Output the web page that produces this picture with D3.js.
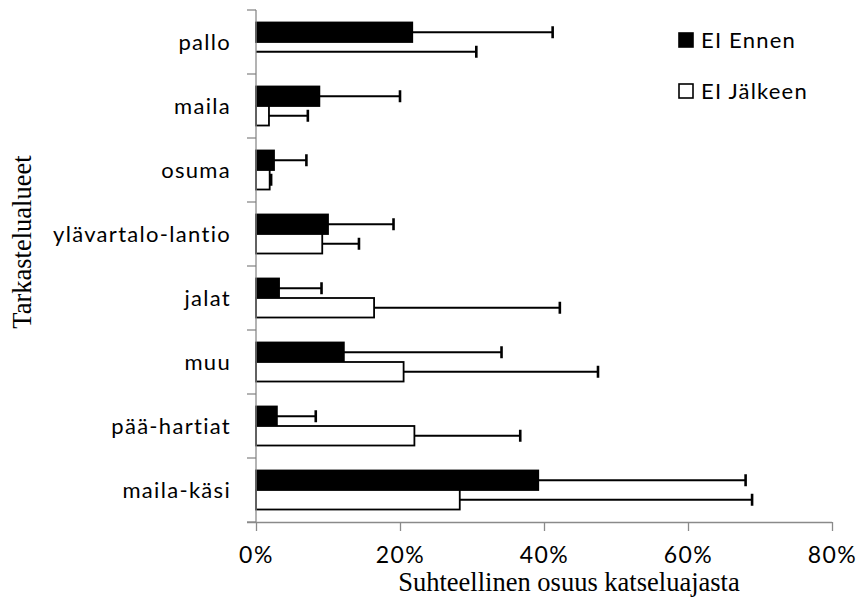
<!DOCTYPE html>
<html>
<head>
<meta charset="utf-8">
<script src="https://cdn.jsdelivr.net/npm/d3@7"></script>
<style>
  html, body { margin: 0; padding: 0; background: #fff; }
  svg { display: block; }
</style>
</head>
<body>
<svg id="chart" width="857" height="610"></svg>
<script>
// Viewing areas (top to bottom)
const categories = ["pallo", "maila", "osuma", "ylävartalo-lantio", "jalat", "muu", "pää-hartiat", "maila-käsi"];
// Share of viewing time (%), before and after, with error bar lengths (%)
const eiEnnen      = [21.7, 8.8, 2.5, 10.0, 3.2, 12.2, 2.9, 39.2];
const eiEnnenErr   = [19.5, 11.2, 4.5, 9.1, 5.9, 21.9, 5.4, 28.8];
const eiJalkeen    = [0.0, 1.8, 1.9, 9.2, 16.4, 20.5, 22.0, 28.3];
const eiJalkeenErr = [30.6, 5.4, 0.2, 5.1, 25.8, 27.0, 14.7, 40.6];
const seriesNames  = ["EI Ennen", "EI Jälkeen"];
const xTicks       = [0, 20, 40, 60, 80];

const svg = d3.select("#chart");
const sansFont = "Lato, 'Open Sans', sans-serif";
const serifFont = "'Liberation Serif', 'Times New Roman', serif";
const axisColor = "#8a8a8a";

const x = d3.scaleLinear().domain([0, 80]).range([256, 832]);
const y = d3.scaleBand().domain(categories).range([10, 522]).padding(0);
const sub = d3.scaleBand().domain(["before", "after"]).range([0, y.bandwidth()])
  .paddingInner(0).paddingOuter(0.64);

const rows = categories.map((c, i) => ({
  cat: c,
  bars: [
    { key: "before", v: eiEnnen[i], e: eiEnnenErr[i], fill: "#000" },
    { key: "after", v: eiJalkeen[i], e: eiJalkeenErr[i], fill: "#fff" }
  ]
}));

// Bars
const g = svg.append("g");
const groups = g.selectAll("g.row").data(rows).join("g")
  .attr("class", "row")
  .attr("transform", d => `translate(0,${y(d.cat)})`);

groups.selectAll("rect").data(d => d.bars.filter(b => b.v > 0)).join("rect")
  .attr("x", x(0))
  .attr("y", b => sub(b.key))
  .attr("width", b => x(b.v) - x(0))
  .attr("height", sub.bandwidth())
  .attr("fill", b => b.fill)
  .attr("stroke", "#000")
  .attr("stroke-width", 1.8);

// Error bars (plus direction)
const errs = groups.selectAll("g.err").data(d => d.bars).join("g").attr("class", "err");
errs.append("line")
  .attr("x1", b => x(b.v)).attr("x2", b => x(b.v + b.e))
  .attr("y1", b => sub(b.key) + sub.bandwidth() / 2)
  .attr("y2", b => sub(b.key) + sub.bandwidth() / 2)
  .attr("stroke", "#000").attr("stroke-width", 2);
errs.append("line")
  .attr("x1", b => x(b.v + b.e)).attr("x2", b => x(b.v + b.e))
  .attr("y1", b => sub(b.key) + sub.bandwidth() / 2 - 6)
  .attr("y2", b => sub(b.key) + sub.bandwidth() / 2 + 6)
  .attr("stroke", "#000").attr("stroke-width", 2.6);

// Vertical axis with ticks between categories
const yAxis = svg.append("g");
yAxis.append("line")
  .attr("x1", x(0)).attr("x2", x(0))
  .attr("y1", y.range()[0]).attr("y2", y.range()[1])
  .attr("stroke", axisColor).attr("stroke-width", 1.3);
const boundaries = categories.map(c => y(c)).concat([y.range()[1]]);
yAxis.selectAll("line.tick").data(boundaries).join("line")
  .attr("class", "tick")
  .attr("x1", x(0) - 9).attr("x2", x(0))
  .attr("y1", d => d).attr("y2", d => d)
  .attr("stroke", axisColor).attr("stroke-width", 1.3);

yAxis.selectAll("text").data(categories).join("text")
  .attr("x", 231)
  .attr("y", c => y(c) + y.bandwidth() / 2)
  .attr("dy", "0.35em")
  .attr("text-anchor", "end")
  .attr("font-family", sansFont)
  .attr("font-size", 22)
  .attr("letter-spacing", 1.3)
  .attr("fill", "#000")
  .text(c => c);

// Horizontal axis
const xAxis = d3.axisBottom(x).tickValues(xTicks).tickFormat(d => d + "%")
  .tickSize(9).tickSizeOuter(0).tickPadding(16);
const xg = svg.append("g").attr("transform", `translate(0,${y.range()[1]})`).call(xAxis);
xg.select(".domain").attr("stroke", axisColor).attr("stroke-width", 1.3)
  .attr("d", `M${x(0) - 9},0.5H${x(80)}`);
xg.selectAll(".tick line").attr("stroke", axisColor).attr("stroke-width", 1.3);
xg.selectAll(".tick text")
  .attr("font-family", sansFont)
  .attr("font-size", 23)
  .attr("letter-spacing", 1.5)
  .attr("fill", "#000");

// Axis titles
svg.append("text")
  .attr("x", 569).attr("y", 591)
  .attr("text-anchor", "middle")
  .attr("font-family", serifFont)
  .attr("font-size", 26.5)
  .attr("fill", "#000")
  .text("Suhteellinen osuus katseluajasta");

svg.append("text")
  .attr("transform", "translate(31,242) rotate(-90)")
  .attr("text-anchor", "middle")
  .attr("font-family", serifFont)
  .attr("font-size", 26.5)
  .attr("fill", "#000")
  .text("Tarkastelualueet");

// Legend
const legend = svg.append("g");
const legendRows = seriesNames.map((n, i) => ({ name: n, fill: i === 0 ? "#000" : "#fff", cy: 40 + i * 51 }));
legend.selectAll("rect").data(legendRows).join("rect")
  .attr("x", 679).attr("y", d => d.cy - 7)
  .attr("width", 14).attr("height", 14)
  .attr("fill", d => d.fill).attr("stroke", "#000").attr("stroke-width", 1.6);
legend.selectAll("text").data(legendRows).join("text")
  .attr("x", 701).attr("y", d => d.cy)
  .attr("dy", "0.35em")
  .attr("font-family", sansFont)
  .attr("font-size", 22)
  .attr("letter-spacing", 1.2)
  .attr("fill", "#000")
  .text(d => d.name);
</script>
</body>
</html>
